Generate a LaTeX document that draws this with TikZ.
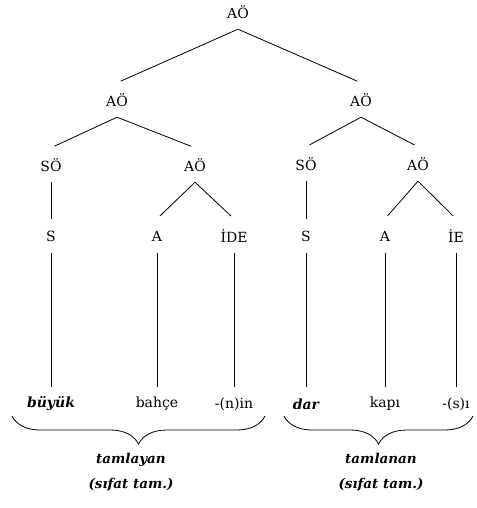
\documentclass[tikz,border=0pt]{standalone}
\usepackage{fontspec}
\setmainfont{DejaVu Serif}
\usetikzlibrary{decorations.pathreplacing}

\begin{document}
\begin{tikzpicture}[x=1pt, y=-1pt,
          cat/.style = {inner sep=0pt, minimum height=34pt, font=\fontsize{14}{16}\selectfont},
          bword/.style = {cat, font=\fontsize{14}{16}\selectfont\bfseries\itshape},
          lbl/.style = {inner sep=0pt, align=center, font=\fontsize{13.5}{25}\selectfont\bfseries\itshape},
          edge/.style = {line width=.8pt, shorten >=4pt},
          stem/.style = {line width=.9pt},
          brc/.style = {decorate, decoration={brace, amplitude=28pt}, line width=.8pt}]
        \useasboundingbox (0,0) rectangle (476,508);
        % tree
        \node[cat] (r) at (238,12) {AÖ};
        \node[cat] (l) at (117,100) {AÖ};
        \node[cat] (rr) at (361,100) {AÖ};
        \node[cat] (lso) at (51,165) {SÖ};
        \node[cat] (lao) at (195,165) {AÖ};
        \node[cat] (rso) at (306,164) {SÖ};
        \node[cat] (rao) at (418,164) {AÖ};
        \node[cat] (ls) at (51,236) {S};
        \node[cat] (la) at (157,236) {A};
        \node[cat] (lide) at (234,236) {İDE};
        \node[cat] (rs) at (306,236) {S};
        \node[cat] (ra) at (385,236) {A};
        \node[cat] (rie) at (456,236) {İE};
        % words
        \node[bword] (w1) at (51,404) {büyük};
        \node[cat] (w2) at (157,404) {bahçe};
        \node[cat] (w3) at (234,404) {-(n)in};
        \node[bword] (w4) at (306,404) {dar};
        \node[cat] (w5) at (385,404) {kapı};
        \node[cat] (w6) at (456,404) {-(s)ı};
        \foreach \a/\b in {r/l, r/rr, l/lso, l/lao, rr/rso, rr/rao, lao/la, lao/lide, rao/ra, rao/rie}
                 {
                   \draw[edge] (\a.south) -- (\b.north);
                 }
        \foreach \a/\b in {lso/ls, rso/rs}
                 {
                   \draw[stem] (\a.south) -- (\b.north);
                 }
        \foreach \a/\b in {ls/w1, la/w2, lide/w3, rs/w4, ra/w5, rie/w6}
                 {
                   \draw[stem] (\a.south) -- (\b.north);
                 }
        % braces
        \coordinate (b1) at (12,416);
        \coordinate (b2) at (265,416);
        \coordinate (b3) at (284,416);
        \coordinate (b4) at (473,416);
        \draw[brc] (b2) -- (b1);
        \draw[brc] (b4) -- (b3);
        \node[lbl] (t1) at (131,472) {tamlayan\\(sıfat tam.)};
        \node[lbl] (t2) at (381,472) {tamlanan\\(sıfat tam.)};
      \end{tikzpicture}
\end{document}
